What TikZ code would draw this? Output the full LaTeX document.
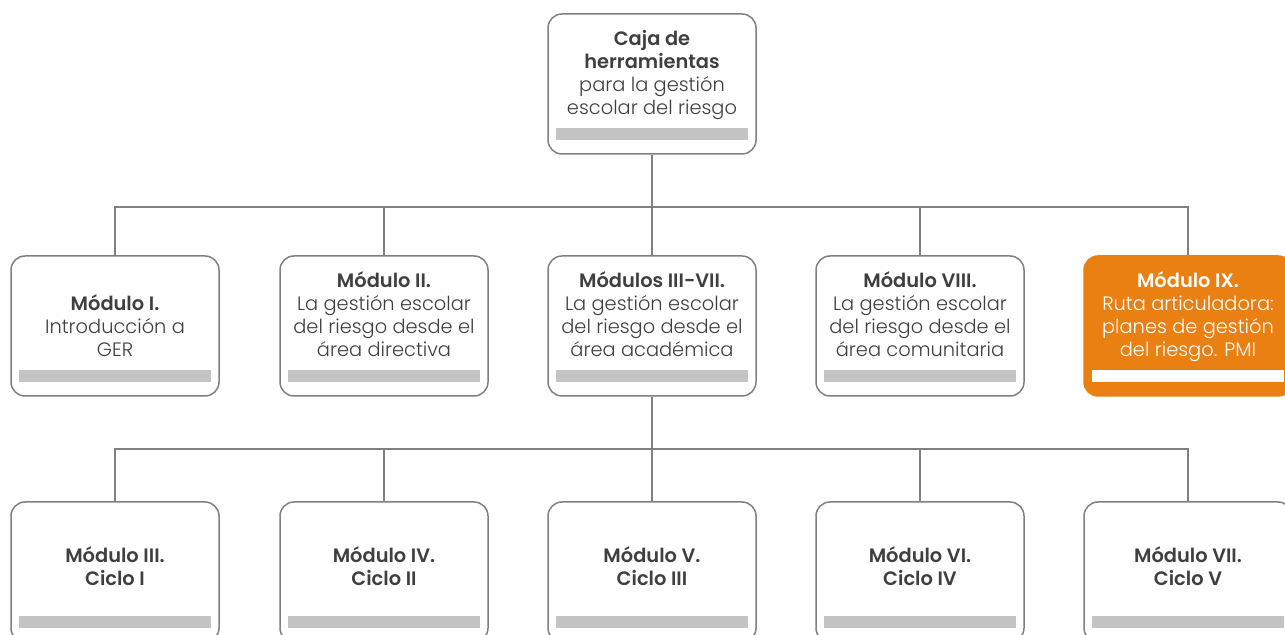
\documentclass[tikz,border=0pt]{standalone}
\usepackage{fontspec}
\setmainfont{Poppins}[UprightFont=* Light, BoldFont=* SemiBold]
\usetikzlibrary{positioning}
\definecolor{framegray}{HTML}{808080}
\definecolor{bargray}{HTML}{C4C4C4}
\definecolor{inkgray}{HTML}{3F3F3F}
\definecolor{modorange}{HTML}{EA7F12}
\tikzset{modbar/.style={path picture={\fill[#1, sharp corners]
  ([xshift=4pt,yshift=7pt]path picture bounding box.south west) rectangle
  ([xshift=-4pt,yshift=13pt]path picture bounding box.south east);}}}
\tikzstyle{modbox}=[draw=framegray, line width=0.75pt, rounded corners=7pt,
  minimum width=104pt, minimum height=70pt, inner sep=0pt, align=center,
  text=inkgray, font=\fontsize{9.7}{11.5}\selectfont, modbar=bargray]
\tikzstyle{hotbox}=[modbox, fill=modorange, draw=modorange, text=white, modbar=white]
\tikzstyle{link}=[draw=framegray, line width=0.6pt]

\begin{document}
\begin{tikzpicture}[x=0.5pt, y=-0.5pt]
\useasboundingbox (0,0) rectangle (1285,635);
\node[modbox] (caja) at (652,84) {\textbf{Caja de}\\\textbf{herramientas}\\para la gestión\\escolar del riesgo\\[0pt]};
\node[modbox] (mod1) at (115,326) {\textbf{Módulo I.}\\Introducción a\\GER};
\node[modbox] (mod2) at (384,326) {\textbf{Módulo II.}\\La gestión escolar\\del riesgo desde el\\área directiva\\[0pt]};
\node[modbox] (mod37) at (652,326) {\textbf{Módulos III-VII.}\\La gestión escolar\\del riesgo desde el\\área académica\\[0pt]};
\node[modbox] (mod8) at (920,326) {\textbf{Módulo VIII.}\\La gestión escolar\\del riesgo desde el\\área comunitaria\\[0pt]};
\node[hotbox] (mod9) at (1188,326) {\textbf{Módulo IX.}\\Ruta articuladora:\\planes de gestión\\del riesgo. PMI\\[0pt]};
\node[modbox] (cic1) at (115,572) {\textbf{Módulo III.}\\\textbf{Ciclo I}\\[-6pt]};
\node[modbox] (cic2) at (384,572) {\textbf{Módulo IV.}\\\textbf{Ciclo II}\\[-6pt]};
\node[modbox] (cic3) at (652,572) {\textbf{Módulo V.}\\\textbf{Ciclo III}\\[-6pt]};
\node[modbox] (cic4) at (920,572) {\textbf{Módulo VI.}\\\textbf{Ciclo IV}\\[-6pt]};
\node[modbox] (cic5) at (1188,572) {\textbf{Módulo VII.}\\\textbf{Ciclo V}\\[-6pt]};
% buses
\coordinate (bus1) at (652,207);
\coordinate (bus2) at (652,449);
\draw[link] (caja) -- (bus1);
\foreach \m in {mod1,mod2,mod37,mod8,mod9}
  \draw[link] (\m.north) |- (bus1);
\draw[link] (mod37) -- (bus2);
\foreach \c in {cic1,cic2,cic3,cic4,cic5}
  \draw[link] (\c.north) |- (bus2);
\end{tikzpicture}
\end{document}
